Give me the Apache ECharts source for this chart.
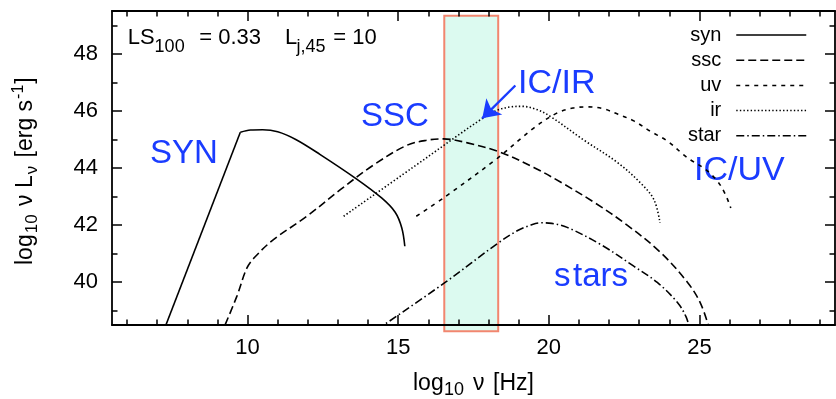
<!DOCTYPE html>
<html><head><meta charset="utf-8">
<script src="https://cdn.jsdelivr.net/npm/echarts@6/dist/echarts.min.js"></script>
<style>html,body{margin:0;padding:0;background:#fff}#c{width:836px;height:399px}</style>
</head><body><div id="c"></div>
<script>
// ---- data (log10 nu [Hz], log10 nu L_nu [erg/s]) ----
const synRiseX = [7.18, 9.76];
const synRiseY = [38.2, 45.25];
const synFallX = [9.76, 10.1, 10.5, 11.0, 11.6, 12.4, 13.6, 14.45, 14.9, 15.12, 15.22];
const synFallY = [45.25, 45.33, 45.34, 45.27, 45.0, 44.48, 43.63, 42.95, 42.45, 41.9, 41.26];
const sscX = [9.1, 9.65, 9.98, 10.26, 10.86, 11.97, 13.08, 14.19, 15.3, 16.0, 16.5, 17.3, 18.4, 19.5, 20.4, 21.5, 22.6, 23.7, 24.6, 25.04, 25.35];
const sscY = [38.12, 39.52, 40.5, 40.9, 41.49, 42.31, 43.24, 44.11, 44.8, 44.98, 45.02, 44.88, 44.55, 44.02, 43.5, 42.8, 42.0, 41.05, 40.0, 39.25, 38.3];
const uvX = [15.6, 16.57, 18.29, 19.5, 20.28, 20.8, 21.28, 21.8, 22.3, 22.82, 23.38, 23.93, 24.49, 24.71, 25.2, 25.59, 25.85, 26.04];
const uvY = [42.31, 43.0, 44.34, 45.4, 45.93, 46.1, 46.14, 46.08, 45.88, 45.65, 45.28, 44.95, 44.45, 44.28, 43.95, 43.55, 43.1, 42.6];
const irX = [13.19, 15.5, 17.8, 18.3, 18.73, 19.1, 19.6, 20.06, 21.16, 22.27, 23.05, 23.49, 23.69];
const irY = [42.31, 44.03, 45.74, 46.03, 46.14, 46.16, 46.05, 45.8, 44.98, 44.2, 43.47, 42.89, 42.08];
const starX = [14.3, 16.57, 18.29, 18.95, 19.4, 19.72, 20.1, 20.61, 21.72, 22.82, 23.6, 24.27, 24.55, 24.7];
const starY = [38.34, 40.0, 41.35, 41.8, 42.0, 42.08, 42.06, 41.92, 41.32, 40.56, 39.99, 39.29, 38.8, 38.3];
const bandX = [16.53, 18.32];
const bandY = [38.28, 49.33];
const arrowFrom = [18.89, 46.89];
const arrowTo = [17.79, 45.74];
const xMajor = [10, 15, 20, 25];
const xMinor = [6,7,8,9,10,11,12,13,14,15,16,17,18,19,20,21,22,23,24,25,26,27,28,29];
const yMajor = [40, 42, 44, 46, 48];
const yMinor = [39,40,41,42,43,44,45,46,47,48,49];
const xRange = [5.5, 29.5];
const yRange = [38.5, 49.5];
const legendNames = ['syn', 'ssc', 'uv', 'ir', 'star'];

const FONT = '"Liberation Sans", Arial, Helvetica, sans-serif';
const BLUE = '#1a3cff';
const pts = (xs, ys) => xs.map((x, i) => [x, ys[i]]);

const chart = echarts.init(document.getElementById('c'), null, {renderer: 'canvas'});

function xAx(pos, major) {
  return {
    type: 'value', position: pos, min: xRange[0], max: xRange[1],
    axisLine: {show: major, onZero: false, lineStyle: {color: '#000', width: 1.8}},
    axisTick: {show: true, inside: true, length: major ? 10 : 5.5,
      customValues: major ? xMajor : xMinor, lineStyle: {color: '#000', width: 1.5}},
    axisLabel: {show: major && pos === 'bottom', customValues: xMajor, fontSize: 22,
      color: '#000', fontFamily: FONT, margin: 12},
    splitLine: {show: false}
  };
}
function yAx(pos, major) {
  return {
    type: 'value', position: pos, min: yRange[0], max: yRange[1],
    axisLine: {show: major, onZero: false, lineStyle: {color: '#000', width: 1.8}},
    axisTick: {show: true, inside: true, length: major ? 10 : 5.5,
      customValues: major ? yMajor : yMinor, lineStyle: {color: '#000', width: 1.5}},
    axisLabel: {show: major && pos === 'left', customValues: yMajor, fontSize: 22,
      color: '#000', fontFamily: FONT, margin: 14},
    splitLine: {show: false}
  };
}

const lineBase = {type: 'line', xAxisIndex: 0, yAxisIndex: 0, symbol: 'none', showSymbol: false,
  clip: true, silent: true, z: 3};

chart.setOption({
  animation: false,
  backgroundColor: '#fff',
  grid: {left: 112, top: 11, right: 1, bottom: 74, containLabel: false},
  xAxis: [xAx('bottom', true), xAx('bottom', false), xAx('top', true), xAx('top', false)],
  yAxis: [yAx('left', true), yAx('left', false), yAx('right', true), yAx('right', false)],
  legend: {
    data: legendNames, orient: 'vertical', align: 'right', right: 29, top: 25,
    padding: 0, itemGap: 5.2, itemWidth: 70, itemHeight: 14, selectedMode: false,
    textStyle: {fontSize: 20, color: '#000', fontFamily: FONT, padding: [0, 10, 0, 0], lineHeight: 20},
    lineStyle: {width: 1.5},
    itemStyle: {opacity: 0, borderWidth: 0}
  },
  series: [
    Object.assign({}, lineBase, {name: 'syn', data: pts(synRiseX, synRiseY),
      lineStyle: {color: '#000', width: 1.6, type: 'solid'}, itemStyle: {color: '#000'}}),
    Object.assign({}, lineBase, {name: 'syn', data: pts(synFallX, synFallY), smooth: 0.35,
      lineStyle: {color: '#000', width: 1.6, type: 'solid'}, itemStyle: {color: '#000'}}),
    Object.assign({}, lineBase, {name: 'ssc', data: pts(sscX, sscY), smooth: 0.35,
      lineStyle: {color: '#000', width: 1.6, type: [8, 4]}, itemStyle: {color: '#000'}}),
    Object.assign({}, lineBase, {name: 'uv', data: pts(uvX, uvY), smooth: 0.35,
      lineStyle: {color: '#000', width: 1.6, type: [4, 5]}, itemStyle: {color: '#000'}}),
    Object.assign({}, lineBase, {name: 'ir', data: pts(irX, irY), smooth: 0.35,
      lineStyle: {color: '#000', width: 1.6, type: [1.4, 2.2]}, itemStyle: {color: '#000'},
      markLine: {silent: true, symbol: ['none', 'arrow'], symbolSize: 17, label: {show: false},
        lineStyle: {color: BLUE, width: 2.4, type: 'solid'}, itemStyle: {color: BLUE},
        emphasis: {disabled: true},
        data: [[{coord: arrowFrom}, {coord: arrowTo}]]}}),
    Object.assign({}, lineBase, {name: 'star', data: pts(starX, starY), smooth: 0.35,
      lineStyle: {color: '#000', width: 1.6, type: [8, 3, 1.5, 3]}, itemStyle: {color: '#000'}})
  ]
});

// ---- text helpers (baseline-positioned runs with sub/superscripts) ----
const mctx = document.createElement('canvas').getContext('2d');
function run(parts, x0, baseY, rot, color) {
  let cx = 0; const children = [];
  parts.forEach(p => {
    const font = p.s + 'px ' + FONT;
    mctx.font = p.s + 'px "Liberation Sans"';
    if (p.x !== undefined) cx = p.x;
    children.push({type: 'text', x: cx, y: (p.d || 0) - 0.347 * p.s, silent: true,
      style: {text: p.t, font: font, fill: color || '#000', align: 'left', verticalAlign: 'middle',
        textAlign: 'left', textVerticalAlign: 'middle'}});
    cx += mctx.measureText(p.t).width + (p.g || 0);
  });
  return {type: 'group', x: x0, y: baseY, rotation: rot || 0, z: 10, children};
}

const p0 = chart.convertToPixel({xAxisIndex: 0, yAxisIndex: 0}, [bandX[0], bandY[1]]);
const p1 = chart.convertToPixel({xAxisIndex: 0, yAxisIndex: 0}, [bandX[1], bandY[0]]);

chart.setOption({
  graphic: [
    {type: 'rect', z: -1, silent: true,
      shape: {x: p0[0], y: p0[1], width: p1[0] - p0[0], height: p1[1] - p0[1]},
      style: {fill: '#dcfaf0', stroke: '#f2866f', lineWidth: 2}},
    // parameter text
    run([{t: 'LS', s: 22}, {t: '100', s: 18, d: 7.6}, {t: '= 0.33', s: 22, x: 71.6}], 127.7, 45.7),
    run([{t: 'L', s: 22}, {t: 'j,45', s: 18, d: 7.6, x: 11.5}, {t: '= 10', s: 22, x: 48.3}], 285, 45.7),
    // blue labels
    run([{t: 'SYN', s: 33}], 150, 165, 0, BLUE),
    run([{t: 'SSC', s: 33}], 361, 128.5, 0, BLUE),
    run([{t: 'IC/IR', s: 34}], 518, 95, 0, BLUE),
    run([{t: 'IC/UV', s: 34}], 694, 182, 0, BLUE),
    run([{t: 's', s: 33, g: 2.5}, {t: 'tars', s: 33}], 554, 288, 0, BLUE),
    // axis titles
    run([{t: 'log', s: 23, x: 0}, {t: '10', s: 18, d: 5, x: 31}, {t: '\u03bd', s: 23, x: 60},
         {t: '[Hz]', s: 23, x: 80}], 413, 391.5),
    run([{t: 'log', s: 23, g: 1}, {t: '10', s: 17, d: 5, g: 2}, {t: ' \u03bd L', s: 23, g: 1},
         {t: '\u03bd', s: 17, d: 5, g: 2}, {t: ' [erg s', s: 23, g: 1}, {t: '-1', s: 16, d: -9, g: 1},
         {t: ']', s: 23}], 33.5, 265, Math.PI / 2)
  ]
});
</script></body></html>
